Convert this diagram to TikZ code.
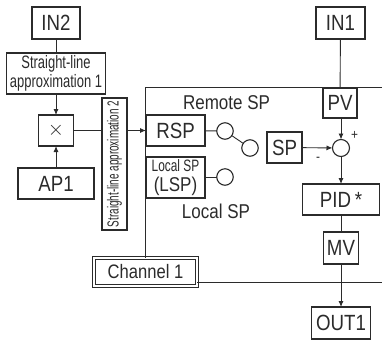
\documentclass[tikz,border=0pt]{standalone}
\usepackage{fontspec}
\setmainfont{Liberation Sans}
\newfontfamily\midfont[FakeStretch=0.85]{Liberation Sans}
\newfontfamily\slimfont[FakeStretch=0.72]{Liberation Sans}
\newfontfamily\thinfont[FakeStretch=0.62]{Liberation Sans}
\usetikzlibrary{arrows.meta,positioning}
\definecolor{inkc}{HTML}{2B2B2B}
\begin{document}
\begin{tikzpicture}[x=1pt,y=1pt,>={Latex[length=6pt,width=5pt]},node distance=14pt and 14pt,
  box/.style={draw=inkc,line width=1.1pt,inner sep=0pt,outer sep=0pt,fill=white,align=center,text=inkc,
    font=\midfont\fontsize{22}{24}\selectfont},
  slimbox/.style={box,font=\slimfont\fontsize{18}{19}\selectfont},
  port/.style={draw=inkc,line width=1.1pt,circle,inner sep=0pt,outer sep=0pt,minimum size=16.5pt,fill=white},
  lbl/.style={inner sep=0pt,text=inkc,font=\midfont\fontsize{20}{22}\selectfont},
  arr/.style={->,draw=inkc,line width=0.9pt},
  lin/.style={draw=inkc,line width=0.9pt}]
\useasboundingbox (0,0) rectangle (382,-341);
% left branch
\node[box,minimum width=48pt,minimum height=32pt] (in2) at (56,-23) {IN2};
\node[slimbox,minimum width=99pt,minimum height=41pt,below=14pt of in2] (line1) {Straight-line\\approximation 1};
\node[box,minimum width=35pt,minimum height=31pt,below=21pt of line1] (mult) {$\times$};
\node[box,minimum width=76pt,minimum height=31pt,below=22pt of mult] (ap1) {AP1};
\node[slimbox,rotate=90,minimum width=132pt,minimum height=25pt,font=\thinfont\fontsize{16}{18}\selectfont] (line2) at (114.5,-164) {Straight-line approximation 2};
% setpoint selection
\node[box,minimum width=59pt,minimum height=31pt] (rsp) at (175.5,-130.5) {RSP};
\node[box,minimum width=59pt,minimum height=41pt,below=11pt of rsp,font=\midfont\fontsize{20}{21}\selectfont] (lsp) {{\slimfont\fontsize{16.5}{18}\selectfont Local SP}\\[-1pt](LSP)};
\node[port] (remote) at (225,-131) {};
\node[port] (switch) at (250,-148) {};
\node[port] (local) at (225,-177) {};
\node[lbl] (remotelbl) at (226.5,-103) {Remote SP};
\node[lbl] (locallbl) at (216,-211) {Local SP};
% right branch
\node[box,minimum width=49pt,minimum height=32pt] (in1) at (340.5,-23) {IN1};
\node[box,minimum width=34pt,minimum height=30pt] (pv) at (340,-103) {PV};
\node[port,minimum size=17pt] (sum) at (341,-148) {};
\node[box,minimum width=35pt,minimum height=31pt] (sp) at (284.5,-147.5) {SP};
\node[box,minimum width=77pt,minimum height=31pt,below=27.5pt of sum] (pid) {PID\,*};
\node[box,minimum width=35pt,minimum height=32pt,below=17pt of pid] (mv) {MV};
\node[box,minimum width=59pt,minimum height=32pt,below=43pt of mv] (out1) {OUT1};
\node[lbl,font=\midfont\fontsize{14}{15}\selectfont] (plus) at (354.5,-135) {+};
\node[lbl,font=\midfont\fontsize{14}{15}\selectfont] (minus) at (318,-159) {-};
\node[box,double,double distance=2.5pt,line width=1pt,minimum width=103pt,minimum height=28pt,font=\midfont\fontsize{19.5}{21}\selectfont] (chan) at (145.5,-272) {Channel 1};
% frame
\coordinate (frametl) at (145.5,-87);
\coordinate (frametr) at (382,-87);
\coordinate (framebr) at (382,-282);
\draw[lin] (frametr) -- (frametl) -- (frametl |- chan.north);
\draw[lin] (chan.east |- framebr) -- (framebr);
% connectors
\draw[lin] (in2) -- (line1);
\draw[arr] (line1) -- (mult);
\draw[arr] (ap1) -- (mult);
\draw[lin] (mult) -- (line2.north |- mult);
\draw[arr] (line2.south |- rsp) -- (rsp);
\draw[lin] (rsp) -- (remote);
\draw[lin] (lsp.east |- local) -- (local);
\draw[lin] (remote) -- (switch);
\draw[lin] (in1) -- (pv);
\draw[arr] (pv.south -| sum) -- (sum);
\draw[arr] (sp) -- (sum);
\draw[arr] (sum) -- (pid);
\draw[lin] (pid) -- (mv);
\draw[arr] (mv.south -| out1) -- (out1);
\end{tikzpicture}
\end{document}
